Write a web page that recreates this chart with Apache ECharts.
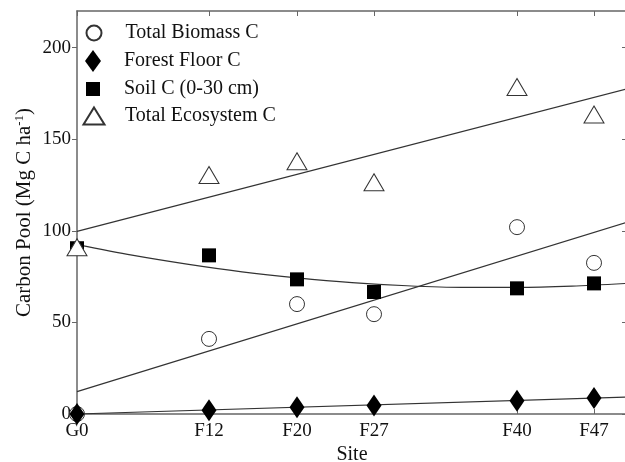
<!DOCTYPE html>
<html><head><meta charset="utf-8">
<script src="https://cdn.jsdelivr.net/npm/echarts@6/dist/echarts.min.js"></script>
<style>html,body{margin:0;padding:0;background:#fff}#c{width:625px;height:462px}</style>
</head><body><div id="c"></div>
<script>
const siteX = [0, 12, 20, 27, 40, 47];
const siteLabels = ['G0', 'F12', 'F20', 'F27', 'F40', 'F47'];
const yTicks = [0, 50, 100, 150, 200];
const biomass = [0, 41, 60, 54.5, 102, 82.5];
const forestFloor = [0, 2, 3.7, 4.6, 7.2, 8.7];
const soil = [90.5, 86.6, 73.5, 66.6, 68.6, 71.3];
const ecosystem = [91, 130.5, 138, 126.5, 178.5, 163.5];
const fitX = [0, 50];
const ecoFitY = [99.7, 177.5];
const biomassFitY = [12.2, 104.7];
const floorFitY = [0, 9.2];
const soilFitX = [0, 5, 10, 15, 20, 25, 30, 35, 40, 45, 50];
const soilFitY = [92.5, 86.7, 81.8, 77.6, 74.3, 71.7, 70.0, 69.1, 69.1, 69.8, 71.3];

const FONT = '"Liberation Serif", "Times New Roman", serif';
const pts = (xs, ys) => xs.map((x, i) => [x, ys[i]]);
const lineStyle = {color: '#333', width: 1.2};
const fit = (name, xs, ys, smooth) => ({
  name, type: 'line', data: pts(xs, ys), symbol: 'none', smooth: smooth ? 0.3 : false,
  lineStyle, silent: true, z: 1
});
const chart = echarts.init(document.getElementById('c'), null, {renderer: 'canvas'});
const legendBase = (name, left, top, w, h, padLeft) => ({
  data: [name], left, top, itemWidth: w, itemHeight: h, padding: 0,
  textStyle: {fontFamily: FONT, fontSize: 20, color: '#111', lineHeight: 20, padding: [0, 0, 0, padLeft]},
  selectedMode: false
});
const axisLine = {onZero: false, lineStyle: {color: '#666', width: 1.5}};
chart.setOption({
  animation: false,
  grid: {left: 77, top: 11, right: -2, bottom: 48, containLabel: false, outerBoundsMode: 'none'},
  legend: [
    legendBase('Total Biomass C', 85.5, 23, 15, 15, 19),
    legendBase('Forest Floor C', 85, 50, 16, 22, 18),
    legendBase('Soil C (0-30 cm)', 86, 79, 14, 14, 19),
    legendBase('Total Ecosystem C', 82.5, 106, 21, 17, 15.5)
  ],
  xAxis: [{
    type: 'value', min: 0, max: 50, position: 'bottom',
    name: 'Site', nameLocation: 'middle', nameGap: 31, nameMoveOverlap: false,
    nameTextStyle: {fontFamily: FONT, fontSize: 20, color: '#111'},
    axisLine,
    axisTick: {inside: true, length: 5, customValues: siteX, lineStyle: {color: '#666'}},
    axisLabel: {customValues: siteX, margin: 8, fontFamily: FONT, fontSize: 19, color: '#111',
      formatter: v => siteLabels[siteX.indexOf(v)] || ''},
    splitLine: {show: false}
  }, {
    type: 'value', min: 0, max: 50, position: 'top',
    axisLine,
    axisTick: {inside: true, length: 5, customValues: siteX, lineStyle: {color: '#666'}},
    axisLabel: {show: false}, splitLine: {show: false}
  }],
  yAxis: [{
    type: 'value', min: 0, max: 220, position: 'left',
    name: 'Carbon Pool (Mg C ha{sup|-1})', nameLocation: 'middle', nameGap: 42, nameMoveOverlap: false,
    nameTextStyle: {fontFamily: FONT, fontSize: 21, color: '#111', lineHeight: 22,
      rich: {sup: {fontFamily: FONT, fontSize: 13, color: '#111', verticalAlign: 'top', lineHeight: 22, padding: [0, 0, 8, 0]}}},
    axisLine,
    axisTick: {inside: false, length: 5, customValues: yTicks, lineStyle: {color: '#666'}},
    axisLabel: {customValues: yTicks, margin: 6, fontFamily: FONT, fontSize: 19, color: '#111'},
    splitLine: {show: false}
  }, {
    type: 'value', min: 0, max: 220, position: 'right',
    axisLine,
    axisTick: {inside: true, length: 5, customValues: yTicks, lineStyle: {color: '#666'}},
    axisLabel: {show: false}, splitLine: {show: false}
  }],
  series: [
    fit('ecoFit', fitX, ecoFitY),
    fit('biomassFit', fitX, biomassFitY),
    fit('floorFit', fitX, floorFitY),
    fit('soilFit', soilFitX, soilFitY, true),
    {name: 'Total Biomass C', type: 'scatter', data: pts(siteX, biomass), symbol: 'circle', symbolSize: 15,
      itemStyle: {color: '#fff', borderColor: '#333', borderWidth: 1, opacity: 1}, z: 2},
    {name: 'Forest Floor C', type: 'scatter', data: pts(siteX, forestFloor), symbol: 'diamond', symbolSize: [15, 22],
      itemStyle: {color: '#000', opacity: 1}, z: 3},
    {name: 'Soil C (0-30 cm)', type: 'scatter', data: pts(siteX, soil), symbol: 'rect', symbolSize: 14,
      itemStyle: {color: '#000', opacity: 1}, z: 4},
    {name: 'Total Ecosystem C', type: 'scatter', data: pts(siteX, ecosystem), symbol: 'triangle', symbolSize: [20, 17],
      itemStyle: {color: '#fff', borderColor: '#333', borderWidth: 1, opacity: 1}, z: 5}
  ]
});
</script></body></html>
